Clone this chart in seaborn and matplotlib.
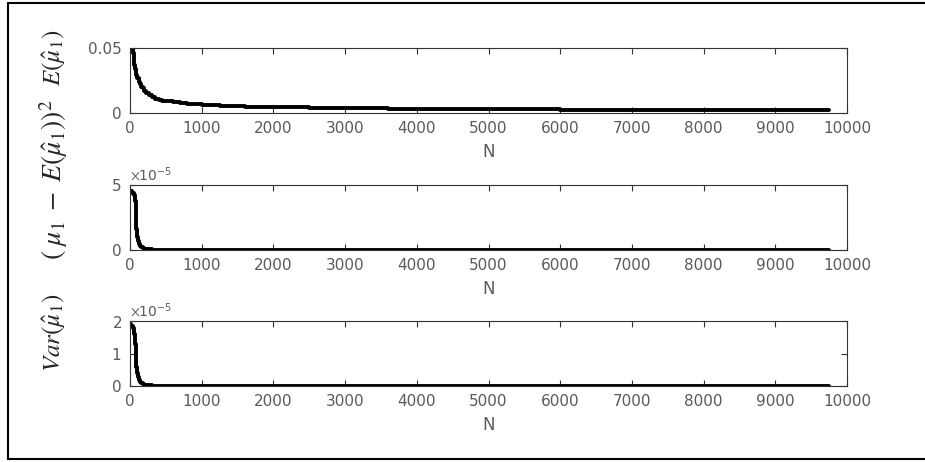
"""
Three stacked panels: mean estimate, squared error and variance
of mu_1 hat against the sample size N (MATLAB style figure).
"""
import numpy as np
import pandas as pd
import seaborn as sns
import matplotlib.pyplot as plt
from matplotlib.lines import Line2D
from matplotlib.ticker import ScalarFormatter

sns.set_style('ticks')
plt.rcParams['font.family'] = ['DejaVu Sans']
plt.rcParams['mathtext.fontset'] = 'stix'

# values
n_mean = [10, 20, 30, 40, 50, 60, 70, 80, 90, 100, 120, 140, 160, 180,
          200, 230, 260, 300, 350, 400, 450, 500, 600, 700, 800, 900,
          1000, 1100, 1250, 1400, 1600, 1800, 2000, 2250, 2500, 2750,
          3000, 3300, 3600, 4000, 4300, 4600, 5000, 5300, 5600, 6000,
          6300, 6600, 7000, 7300, 7600, 8000, 8300, 8600, 9000, 9300,
          9600, 9750]
mean_est = [0.080, 0.062, 0.050, 0.046, 0.041, 0.037, 0.034, 0.031,
            0.029, 0.027, 0.024, 0.022, 0.020, 0.019, 0.017, 0.0155,
            0.014, 0.0125, 0.011, 0.0100, 0.0094, 0.0090, 0.0084,
            0.0078, 0.0073, 0.0068, 0.0064, 0.0060, 0.0056, 0.0054,
            0.0050, 0.0048, 0.0046, 0.0043, 0.0041, 0.0039, 0.0037,
            0.0035, 0.0034, 0.0032, 0.0031, 0.0029, 0.0028, 0.0027,
            0.0027, 0.0026, 0.0025, 0.0025, 0.0024, 0.0023, 0.0024,
            0.0023, 0.0022, 0.0023, 0.0022, 0.0021, 0.0022, 0.0021]

n_err = [10, 20, 30, 40, 50, 60, 70, 80, 90, 100, 110, 120, 140, 160,
         180, 200, 250, 300, 350, 400, 600, 1000, 2000, 3000, 4000, 5000,
         6000, 7000, 8000, 9000, 9750]
sq_err_e5 = [4.5, 4.5, 4.4, 4.4, 4.3, 4.2, 3.8, 2.6, 1.6, 1.0, 0.7, 0.5,
             0.3, 0.2, 0.13, 0.08, 0.04, 0.02, 0.01, 0.008, 0.005, 0.003,
             0.002, 0.0015, 0.001, 0.001, 0.001, 0.001, 0.001, 0.001,
             0.001]

n_var = [10, 20, 30, 40, 50, 60, 70, 80, 90, 100, 110, 120, 140, 160,
         180, 200, 250, 300, 400, 600, 1000, 2000, 3000, 4000, 5000, 6000,
         7000, 8000, 9000, 9750]
var_e5 = [1.9, 1.85, 1.85, 1.8, 1.8, 1.6, 1.3, 0.9, 0.6, 0.4, 0.28, 0.2,
          0.12, 0.08, 0.05, 0.03, 0.02, 0.01, 0.006, 0.004, 0.003, 0.002,
          0.002, 0.001, 0.001, 0.001, 0.001, 0.001, 0.001, 0.001]

x_ticks = [0, 1000, 2000, 3000, 4000, 5000, 6000, 7000, 8000, 9000, 10000]

TICK_GREY = '#5a5a5a'


def style_axes(ax, yticks, ylim):
    '''MATLAB like box: inward ticks on every side, grey labels.'''
    ax.set_xlim(0, 10000)
    ax.set_ylim(*ylim)
    ax.set_xticks(x_ticks)
    ax.set_yticks(yticks)
    ax.tick_params(direction='in', length=4, width=0.8, top=True,
                   right=True, labelsize=11, labelcolor=TICK_GREY,
                   color='#333333', pad=6)
    for sp in ax.spines.values():
        sp.set_visible(True)
        sp.set_color('#333333')
        sp.set_linewidth(0.8)
    ax.set_xlabel('N', fontsize=12, color=TICK_GREY, labelpad=5)
    ax.set_ylabel('')


def draw_panel(ax, n, values):
    df = pd.DataFrame({'N': n, 'value': values})
    sns.lineplot(data=df, x='N', y='value', ax=ax, color='black',
                 linewidth=2.8, drawstyle='steps-post', estimator=None)


def main():
    fig = plt.figure(figsize=(9.25, 4.62), dpi=100)
    left, width, height = 130 / 925, 717 / 925, 65 / 462
    ax1 = fig.add_axes([left, 1 - 113 / 462, width, height])
    ax2 = fig.add_axes([left, 1 - 250 / 462, width, height])
    ax3 = fig.add_axes([left, 1 - 386 / 462, width, height])

    draw_panel(ax1, n_mean, mean_est)
    draw_panel(ax2, n_err, np.array(sq_err_e5) * 1e-5)
    draw_panel(ax3, n_var, np.array(var_e5) * 1e-5)

    style_axes(ax1, [0, 0.05], (0, 0.05))
    ax1.set_yticklabels(['0', '0.05'])
    style_axes(ax2, [0, 5e-5], (0, 5e-5))
    style_axes(ax3, [0, 1e-5, 2e-5], (0, 2e-5))
    for ax in (ax2, ax3):
        fmt = ScalarFormatter(useMathText=True)
        fmt.set_powerlimits((0, 0))
        ax.yaxis.set_major_formatter(fmt)
        ax.yaxis.get_offset_text().set_fontsize(10)
        ax.yaxis.get_offset_text().set_color(TICK_GREY)

    # rotated labels on the left
    lab = dict(rotation=90, ha='center', va='center')
    fig.text(54 / 925, 1 - 58 / 462, r'$E(\hat{\mu}_1)$', fontsize=18,
             **lab)
    fig.text(54 / 925, 1 - 180 / 462,
             r'$\left(\;\mu_1\;-\;E(\hat{\mu}_1)\right)^2$', fontsize=20,
             **lab)
    fig.text(54 / 925, 1 - 333 / 462, r'$Var(\hat{\mu}_1)$', fontsize=18,
             **lab)

    # outer frame of the original screenshot
    x0, y_top, y_bot = 8 / 925, 1 - 3 / 462, 1 - 459 / 462
    for xs, ys in (([x0, 1], [y_top, y_top]), ([x0, 1], [y_bot, y_bot]),
                   ([x0, x0], [y_bot, y_top])):
        fig.add_artist(Line2D(xs, ys, transform=fig.transFigure,
                              color='black', linewidth=1.5))

    fig.savefig('out.png', dpi=100)


if __name__ == '__main__':
    main()
